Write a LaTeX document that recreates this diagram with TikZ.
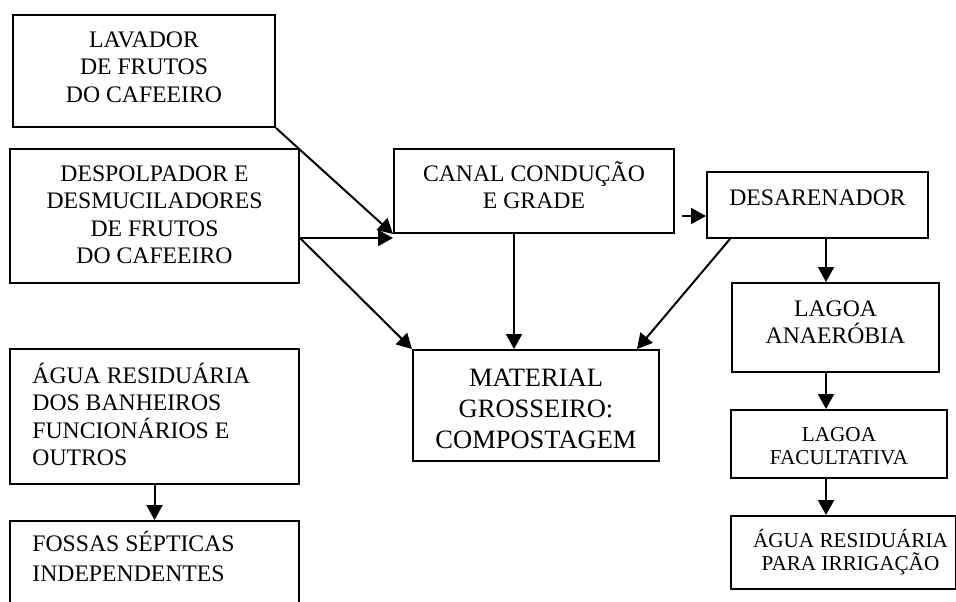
\documentclass[tikz,border=0pt]{standalone}
\usepackage{fontspec}
\setmainfont{Liberation Serif}
\usetikzlibrary{arrows.meta}

\tikzset{
  caixa/.style={draw, line width=1pt, anchor=north west, inner sep=0pt},
  texto/.style={anchor=base, align=center, inner sep=0pt, font=\fontsize{11.85}{13.8}\selectfont},
  seta/.style={-{Triangle[length=7.5pt,width=8pt]}, line width=1pt},
}

\begin{document}
\begin{tikzpicture}[x=1pt, y=-1pt]
    \clip (0,0) rectangle (478,300.5);

    \node[caixa, minimum width=131pt, minimum height=56pt,
        label={[texto, yshift=-44.1pt]north:{LAVADOR\\DE FRUTOS\\DO CAFEEIRO}}] (lavador) at (6,7) {};
    \node[caixa, minimum width=144.5pt, minimum height=67pt,
        label={[texto, yshift=-57.9pt]north:{DESPOLPADOR E\\DESMUCILADORES\\DE FRUTOS\\DO CAFEEIRO}}] (despolpador) at (4.5,74) {};
    \node[caixa, minimum width=140pt, minimum height=42pt,
        label={[texto, yshift=-30.3pt]north:{CANAL CONDUÇÃO\\E GRADE}}] (canal) at (196.5,74) {};
    \node[caixa, minimum width=110.5pt, minimum height=33pt,
        label={[texto, yshift=-17pt]north:{DESARENADOR}}] (desarenador) at (353,85.5) {};
    \node[caixa, minimum width=103.5pt, minimum height=44.5pt,
        label={[texto, yshift=-30.8pt]north:{LAGOA\\ANAERÓBIA}}] (anaerobia) at (365.5,141) {};
    \node[caixa, minimum width=123pt, minimum height=55.5pt,
        label={[texto, yshift=-49.5pt, font=\fontsize{13.25}{15.5}\selectfont]north:{MATERIAL\\GROSSEIRO:\\COMPOSTAGEM}}] (material) at (206,174.5) {};
    \node[caixa, minimum width=144.5pt, minimum height=67.5pt,
        label={[texto, anchor=base west, align=left, xshift=11.5pt, yshift=-58.9pt]north west:{ÁGUA RESIDUÁRIA\\DOS BANHEIROS\\FUNCIONÁRIOS E\\OUTROS}}] (banheiros) at (4.5,174) {};
    \node[caixa, minimum width=144.5pt, minimum height=60pt,
        label={[texto, anchor=base west, align=left, xshift=11.5pt, yshift=-30.5pt, font=\fontsize{11.85}{15}\selectfont]north west:{FOSSAS SÉPTICAS\\INDEPENDENTES}}] (fossas) at (4.5,260) {};
    \node[caixa, minimum width=108pt, minimum height=34pt,
        label={[texto, yshift=-27.5pt, font=\fontsize{10.6}{11.5}\selectfont]north:{LAGOA\\FACULTATIVA}}] (facultativa) at (365,204.5) {};
    \node[caixa, minimum width=112.5pt, minimum height=36.5pt,
        label={[texto, yshift=-27.5pt, xshift=3.5pt, font=\fontsize{10.6}{11.5}\selectfont]north:{ÁGUA RESIDUÁRIA\\PARA IRRIGAÇÃO}}] (irrigacao) at (365,257.5) {};

    \coordinate (saida) at (despolpador.east |- 0,119);
    \coordinate (entrada) at ([yshift=-5.5pt]desarenador.west);
    \coordinate (eixo) at (413,0);

    \draw[seta] (lavador.south east) -- (canal.south west);
    \draw[seta] (saida) -- (saida -| canal.west);
    \draw[seta] (saida) -- (material.north west);
    \draw[seta] ([xshift=-10pt]canal.south) -- ([xshift=-10pt]canal.south |- material.north);
    \draw[seta] ([xshift=-12pt]entrada) -- (entrada);
    \draw[seta] ([xshift=12pt]desarenador.south west) -- ([xshift=-11.5pt]material.north east);
    \draw[seta] (desarenador.south -| eixo) -- (anaerobia.north -| eixo);
    \draw[seta] (anaerobia.south -| eixo) -- (facultativa.north -| eixo);
    \draw[seta] (facultativa.south -| eixo) -- (irrigacao.north -| eixo);
    \draw[seta] (banheiros.south) -- (fossas.north);
\end{tikzpicture}
\end{document}
